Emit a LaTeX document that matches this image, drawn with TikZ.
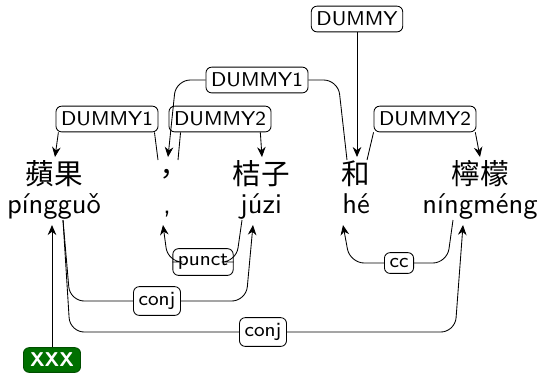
\documentclass[tikz,border=0pt]{standalone}
\usepackage{fontspec}
\newfontfamily\cjk{Noto Sans CJK TC}
\usetikzlibrary{arrows.meta}
\definecolor{rootgreen}{RGB}{0,112,0}
\begin{document}
\begin{tikzpicture}[x=0.35pt, y=-0.35pt, line width=0.3pt,
    hz/.style={anchor=base, inner sep=0pt, font=\cjk},
    py/.style={anchor=base, inner sep=0pt, font=\sffamily},
    lbl/.style={draw, rounded corners=2pt, fill=white, font=\sffamily\scriptsize, inner xsep=1.8pt, inner ysep=2pt},
    rootlbl/.style={fill=rootgreen, draw=rootgreen!70!black, rounded corners=2pt, text=white, font=\sffamily\scriptsize\bfseries, inner xsep=2.3pt, inner ysep=1.9pt},
    arc/.style={rounded corners=5pt},
    >={Stealth[length=3.5pt, width=3pt]}]
  \useasboundingbox (0,0) rectangle (542,372);
  % words
  \node[hz] (pg) at (54,184) {蘋果};
  \node[hz] (cm) at (167,184) {，};
  \node[hz] (jz) at (261,184) {桔子};
  \node[hz] (he) at (356,184) {和};
  \node[hz] (nm) at (480,184) {檸檬};
  \node[py] (pgp) at (54,213) {píngguǒ};
  \node[py] (cmp) at (167,213) {,};
  \node[py] (jzp) at (261,213) {júzi};
  \node[py] (hep) at (356,213) {hé};
  \node[py] (nmp) at (480,213) {níngméng};
  % ends above and below the words
  \coordinate (pgT) at (55,157);
  \coordinate (cmT) at (168,157);
  \coordinate (cmL) at (158,160);
  \coordinate (cmR) at (178,160);
  \coordinate (jzT) at (262,157);
  \coordinate (heT) at (357,157);
  \coordinate (heL) at (347,160);
  \coordinate (heR) at (367,160);
  \coordinate (nmT) at (480,157);
  \coordinate (pgB) at (52,225);
  \coordinate (pgR) at (63,220);
  \coordinate (cmB) at (163,225);
  \coordinate (jzL) at (242,220);
  \coordinate (jzB) at (253,225);
  \coordinate (heB) at (343,225);
  \coordinate (nmL) at (453,220);
  \coordinate (nmB) at (463,225);
  % labels
  \node[lbl] (dm) at (357,19) {DUMMY};
  \node[lbl] (d1b) at (257,80) {DUMMY1};
  \node[lbl] (d1a) at (107,119) {DUMMY1};
  \node[lbl] (d2a) at (220,119) {DUMMY2};
  \node[lbl] (d2b) at (425,119) {DUMMY2};
  \node[lbl] (pu) at (203,262) {punct};
  \node[lbl] (cc) at (399,263) {cc};
  \node[lbl] (cja) at (157,301) {conj};
  \node[lbl] (cjb) at (263,332) {conj};
  \node[rootlbl] (xxx) at (52,360) {XXX};
  % arcs above
  \draw[->] (dm.south) -- (heT);
  \draw[arc,->] (d1b.west) -- (176,80) -- (cmT);
  \draw[arc] (d1b.east) -- (338,80) -- (heL);
  \draw[->] ([xshift=1pt]d1a.south west) -- (pgT);
  \draw ([xshift=-1.4pt]d1a.south east) -- (cmL);
  \draw ([xshift=4.2pt]d2a.south west) -- (cmR);
  \draw[->] ([xshift=-3.9pt]d2a.south east) -- (jzT);
  \draw (d2b.south west) -- (heR);
  \draw[->] ([xshift=-0.4pt]d2b.south east) -- (nmT);
  % arcs below
  \draw[arc,->] (pu.west) -- (168,262) -- (cmB);
  \draw[arc] (pu.east) -- (236,262) -- (jzL);
  \draw[arc,->] (cc.west) -- (350,263) -- (heB);
  \draw[arc] (cc.east) -- (447,263) -- (nmL);
  \draw[arc] (cja.west) -- (70,301) -- (pgR);
  \draw[arc,->] (cja.east) -- (246,301) -- (jzB);
  \draw[arc] (cjb.west) -- (70,332) -- (pgR);
  \draw[arc,->] (cjb.east) -- (455,332) -- (nmB);
  \draw[->] (xxx.north) -- (pgB);
\end{tikzpicture}
\end{document}
